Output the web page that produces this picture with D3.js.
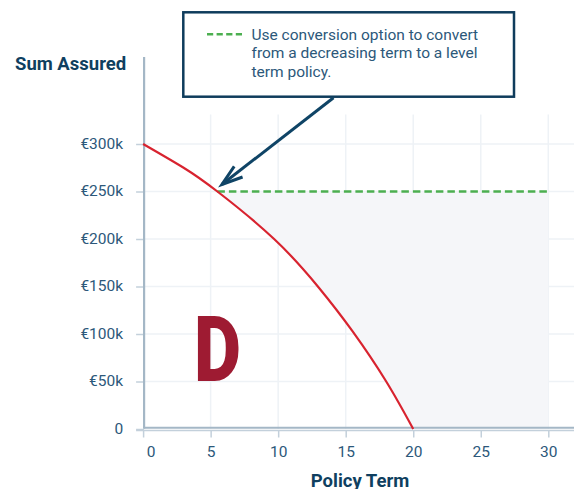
<!DOCTYPE html>
<html>
<head>
<meta charset="utf-8">
<script src="https://cdn.jsdelivr.net/npm/d3@7"></script>
<style>
  html, body { margin: 0; padding: 0; background: #fff; }
  svg { display: block; font-family: Roboto, "Noto Sans", sans-serif; }
</style>
</head>
<body>
<svg id="chart" width="574" height="489"></svg>
<script>
// ---- data ----
const termYears   = [0, 3, 5.5, 9.7, 13, 15.5, 18, 20];
const sumAssured  = [300000, 275000, 250000, 200000, 149000, 103000, 50000, 0];
const levelStart  = 5.5;
const levelEnd    = 30;
const levelValue  = 250000;
const xTicks      = [0, 5, 10, 15, 20, 25, 30];
const yTicks      = [0, 50000, 100000, 150000, 200000, 250000, 300000];
const yTickLabels = ["0", "€50k", "€100k", "€150k", "€200k", "€250k", "€300k"];
const legendLines = ["Use conversion option to convert", "from a decreasing term to a level", "term policy."];

const svg = d3.select("#chart");
const x = d3.scaleLinear().domain([0, 30]).range([143.1, 548.3]);
const y = d3.scaleLinear().domain([0, 300000]).range([429, 144]);

const textColor = "#2c587a";
const titleColor = "#0f3f60";
const axisColor = "#a4b7c6";
const tickColor = "#c3d0db";
const gridColor = "#eef2f6";
const shadeColor = "#f5f6f9";

// grid
const grid = svg.append("g");
grid.selectAll("line.h").data(yTicks.filter(d => d > 0)).join("line")
  .attr("x1", x(0) + 1).attr("x2", 574)
  .attr("y1", d => y(d)).attr("y2", d => y(d))
  .attr("stroke", gridColor).attr("stroke-width", 1.5);
grid.selectAll("line.v").data(xTicks.filter(d => d > 0)).join("line")
  .attr("x1", d => x(d)).attr("x2", d => x(d))
  .attr("y1", y(331000)).attr("y2", y(0))
  .attr("stroke", gridColor).attr("stroke-width", 1.5);

// shaded region between curve and level line
const pts = termYears.map((t, i) => ({ t, v: sumAssured[i] }));
const endT = termYears[termYears.length - 1];
svg.append("clipPath").attr("id", "shadeClip").append("rect")
  .attr("x", x(levelStart)).attr("y", y(levelValue))
  .attr("width", x(endT) - x(levelStart) + 1).attr("height", y(0) - y(levelValue));
const area = d3.area().x(p => x(p.t)).y0(p => y(p.v)).y1(y(levelValue)).curve(d3.curveNatural);
svg.append("path").datum(pts).attr("d", area).attr("fill", shadeColor)
  .attr("clip-path", "url(#shadeClip)");
svg.append("rect")
  .attr("x", x(endT) - 0.5)
  .attr("y", y(levelValue))
  .attr("width", x(levelEnd) - x(endT) + 0.5)
  .attr("height", y(0) - y(levelValue))
  .attr("fill", shadeColor);

// y axis
const yAxis = d3.axisLeft(y).tickValues(yTicks).tickSize(8).tickPadding(13)
  .tickFormat((d, i) => yTickLabels[i]);
const gy = svg.append("g").attr("transform", `translate(${x(0) + 1},0)`).call(yAxis);
gy.select(".domain").remove();
gy.selectAll(".tick line").attr("stroke", tickColor).attr("stroke-width", 1.5);
gy.selectAll(".tick text").attr("fill", textColor).attr("font-size", 15.5).attr("dy", "0.27em")
  .attr("font-family", "Roboto");

// x axis
const xAxis = d3.axisBottom(x).tickValues(xTicks).tickSize(7).tickPadding(8);
const gx = svg.append("g").attr("transform", `translate(0,${y(0) + 1.5})`).call(xAxis);
gx.select(".domain").remove();
gx.selectAll(".tick line").attr("stroke", tickColor).attr("stroke-width", 1.5);
gx.selectAll(".tick text").attr("fill", textColor).attr("font-size", 15.5).attr("font-family", "Roboto")
  .attr("dx", d => d === 0 ? 7.5 : 0);

// axis lines
svg.append("line").attr("x1", x(0) - 7).attr("x2", 574)
  .attr("y1", y(0) + 1.5).attr("y2", y(0) + 1.5)
  .attr("stroke", tickColor).attr("stroke-width", 1.5);
svg.append("line").attr("x1", x(0) + 1).attr("x2", 574)
  .attr("y1", y(0) - 1.3).attr("y2", y(0) - 1.3)
  .attr("stroke", axisColor).attr("stroke-width", 2);
svg.append("line").attr("x1", x(0) + 1).attr("x2", x(0) + 1)
  .attr("y1", 57).attr("y2", y(0) - 0.3)
  .attr("stroke", axisColor).attr("stroke-width", 2.2);

// level line (dashed)
svg.append("line")
  .attr("x1", x(levelStart)).attr("x2", x(levelEnd))
  .attr("y1", y(levelValue)).attr("y2", y(levelValue))
  .attr("stroke", "#4caf50").attr("stroke-width", 2.5).attr("stroke-dasharray", "7.5,4");

// decreasing curve
const line = d3.line().x(p => x(p.t)).y(p => y(p.v)).curve(d3.curveNatural);
svg.append("path").datum(pts).attr("d", line)
  .attr("fill", "none").attr("stroke", "#d8232f").attr("stroke-width", 2.2);

// big D
svg.append("text").text("D")
  .attr("x", 194).attr("y", 381)
  .attr("font-family", "Roboto").attr("font-weight", 900).attr("font-size", 90)
  .attr("textLength", 47).attr("lengthAdjust", "spacingAndGlyphs")
  .attr("fill", "#9e1b32");

// titles
svg.append("text").text("Sum Assured").attr("x", 15).attr("y", 70)
  .attr("font-weight", 700).attr("font-size", 18.5).attr("fill", titleColor);
svg.append("text").text("Policy Term").attr("x", 360).attr("y", 486.5)
  .attr("text-anchor", "middle")
  .attr("font-weight", 700).attr("font-size", 18.5).attr("fill", titleColor);

// annotation box
const box = { x: 183.3, y: 12.3, w: 330.7, h: 84.4 };
svg.append("rect").attr("x", box.x).attr("y", box.y).attr("width", box.w).attr("height", box.h)
  .attr("fill", "#fff").attr("stroke", "#0f3c5c").attr("stroke-width", 2.5);
svg.append("line").attr("x1", 207).attr("x2", 242).attr("y1", 34.3).attr("y2", 34.3)
  .attr("stroke", "#4caf50").attr("stroke-width", 2.5).attr("stroke-dasharray", "6.2,3.4");
svg.append("g").selectAll("text").data(legendLines).join("text")
  .attr("x", 251.5).attr("y", (d, i) => 40 + i * 18.4)
  .attr("font-size", 15.5).attr("fill", textColor).text(d => d);

// arrow pointing to conversion point
const tip = [x(levelStart) + 4.5, y(levelValue) - 7];
const start = [333.5, box.y + box.h + 1];
const ang = Math.atan2(start[1] - tip[1], start[0] - tip[0]);
const headLen = 22, spread = 18 * Math.PI / 180;
const h1 = [tip[0] + headLen * Math.cos(ang - spread), tip[1] + headLen * Math.sin(ang - spread)];
const h2 = [tip[0] + headLen * Math.cos(ang + spread), tip[1] + headLen * Math.sin(ang + spread)];
const arrowColor = "#0f4466";
svg.append("line").attr("x1", start[0]).attr("y1", start[1]).attr("x2", tip[0]).attr("y2", tip[1])
  .attr("stroke", arrowColor).attr("stroke-width", 3);
svg.append("path").attr("d", `M${h1[0]},${h1[1]}L${tip[0]},${tip[1]}L${h2[0]},${h2[1]}`)
  .attr("fill", "none").attr("stroke", arrowColor).attr("stroke-width", 3)
  .attr("stroke-linejoin", "miter").attr("stroke-linecap", "butt");
</script>
</body>
</html>
